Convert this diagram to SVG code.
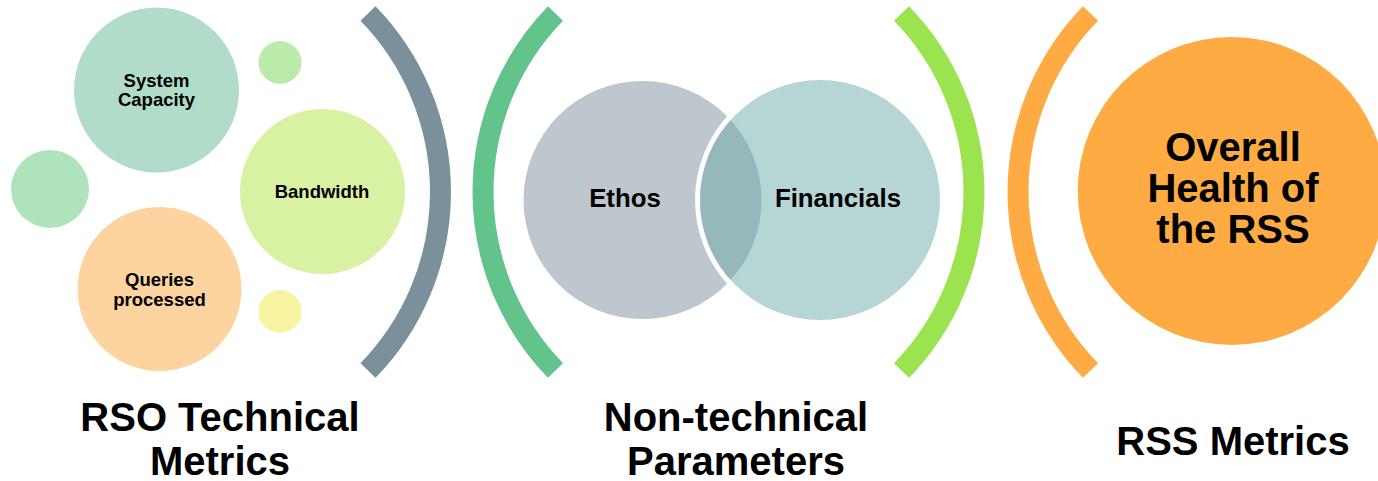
<svg xmlns="http://www.w3.org/2000/svg" width="1378" height="481" viewBox="0 0 1378 481">
<defs>
<style>
text{font-family:"Liberation Sans",Arial,sans-serif;font-weight:bold;fill:#000;text-anchor:middle}
.s{font-size:18.5px}
.m{font-size:25.8px}
.l{font-size:40px}
.xl{font-size:40px}
.arc{fill:none;stroke-width:21;stroke-linecap:butt}
</style>
<clipPath id="finClip"><circle cx="820" cy="200" r="120"/></clipPath>
</defs>
<rect width="1378" height="481" fill="#fff"/>
<g id="connectors">
<path class="arc" stroke="#7a909b" d="M368,13.5 A256,256 0 0 1 368,370.5"/>
<path class="arc" stroke="#62c38b" d="M555.5,13.5 A256,256 0 0 0 555.5,370.5"/>
<path class="arc" stroke="#9ce350" d="M901.5,13.5 A256,256 0 0 1 901.5,370.5"/>
<path class="arc" stroke="#fdab42" d="M1090.5,13.5 A256,256 0 0 0 1090.5,370.5"/>
</g>
<g id="dot-top"><circle cx="280" cy="62.5" r="21.5" fill="#bbebab"/></g>
<g id="dot-left"><circle cx="50" cy="189" r="39" fill="#aee3bb"/></g>
<g id="dot-bottom"><circle cx="280" cy="311.5" r="21.5" fill="#f8f4a1"/></g>
<g id="system-capacity">
<circle cx="156.5" cy="90" r="82.5" fill="#b1dcc9"/>
<text class="s" x="156.5" y="87">System</text>
<text class="s" x="156.5" y="106">Capacity</text>
</g>
<g id="bandwidth">
<circle cx="322.5" cy="191.5" r="82.5" fill="#d9f1a3"/>
<text class="s" x="322" y="197.7">Bandwidth</text>
</g>
<g id="queries">
<circle cx="159.5" cy="289" r="82" fill="#fdd49f"/>
<text class="s" x="159.5" y="286">Queries</text>
<text class="s" x="159.5" y="305.5">processed</text>
</g>
<g id="ethos">
<circle cx="642.5" cy="200" r="119" fill="#bdc7cd"/>
<text class="m" x="625" y="207.3">Ethos</text>
</g>
<g id="financials">
<circle cx="820" cy="200" r="125" fill="#fff"/>
<circle cx="820" cy="200" r="120" fill="#b6d6d5"/>
<circle cx="642.5" cy="200" r="119" fill="#95b9ba" clip-path="url(#finClip)"/>
<text class="m" x="838" y="207.3">Financials</text>
</g>
<g id="overall-health">
<circle cx="1231.7" cy="191" r="154" fill="#fdab42"/>
<text class="xl" x="1233" y="161">Overall</text>
<text class="xl" x="1233" y="202">Health of</text>
<text class="xl" x="1233" y="243">the RSS</text>
</g>
<g id="label-rso">
<text class="l" x="220" y="431">RSO Technical</text>
<text class="l" x="220" y="475">Metrics</text>
</g>
<g id="label-nontech">
<text class="l" x="736" y="431">Non-technical</text>
<text class="l" x="736" y="475">Parameters</text>
</g>
<g id="label-rss">
<text class="l" x="1233" y="455">RSS Metrics</text>
</g>
</svg>
